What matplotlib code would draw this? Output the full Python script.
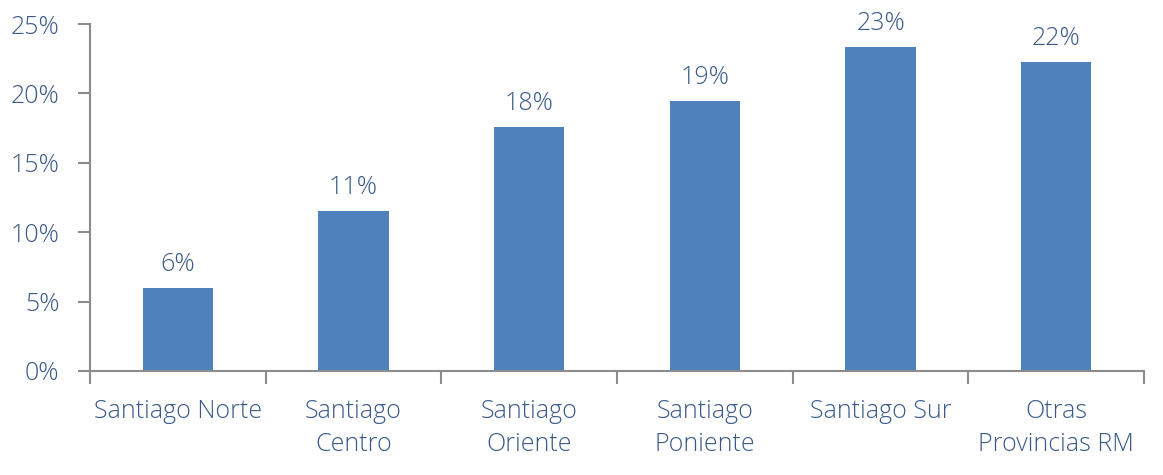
import matplotlib.pyplot as plt
import numpy as np

categories = ['Santiago Norte', 'Santiago\nCentro', 'Santiago\nOriente', 'Santiago\nPoniente', 'Santiago Sur', 'Otras\nProvincias RM']
values = [5.95, 11.5, 17.6, 19.45, 23.35, 22.25]
labels = ['6%', '11%', '18%', '19%', '23%', '22%']
yticks = [0, 5, 10, 15, 20, 25]

txt = '#3A5A8A'
axc = '#8C8C8C'
plt.rcParams['font.family'] = ['Open Sans', 'DejaVu Sans']
fw = 'light'
fs = 18

fig = plt.figure(figsize=(11.63, 4.75), dpi=100)
ax = fig.add_axes([90/1163, 104/475, 1054/1163, 347/475])

x = np.arange(len(categories))
ax.bar(x, values, width=0.4, color='#4F81BD')
for xi, v, lab in zip(x, values, labels):
    ax.text(xi, v + 0.8, lab, ha='center', va='bottom', fontsize=fs, color=txt, fontweight=fw)

ax.set_xlim(-0.5, len(categories) - 0.5)
ax.set_ylim(0, 25)
ax.set_yticks(yticks)
ax.set_yticklabels([f'{t}%' for t in yticks], fontsize=fs, color=txt, fontweight=fw)

ax.set_xticks(np.arange(len(categories) + 1) - 0.5)
ax.set_xticklabels([])
ax.set_xticks(x, minor=True)
ax.set_xticklabels(categories, minor=True, fontsize=fs, color=txt, linespacing=1.45, fontweight=fw)
ax.tick_params(axis='x', which='minor', length=0, pad=20)
ax.tick_params(axis='x', which='major', length=9, width=1.5, color=axc, direction='out')
ax.tick_params(axis='y', length=9, width=1.5, color=axc, pad=13)

for s in ['top', 'right']:
    ax.spines[s].set_visible(False)
for s in ['left', 'bottom']:
    ax.spines[s].set_color(axc)
    ax.spines[s].set_linewidth(1.5)

fig.savefig('out.png', dpi=100)
